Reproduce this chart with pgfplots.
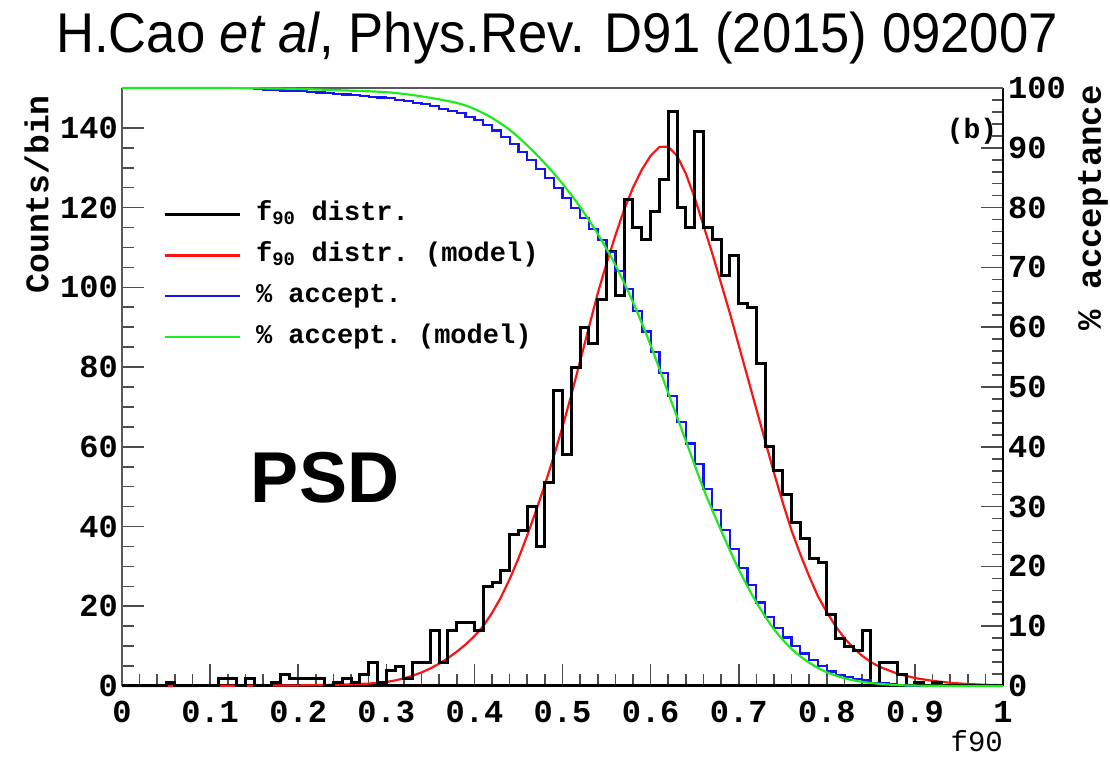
\documentclass[border=0pt]{standalone}
\usepackage{fontspec}
\setmainfont{Liberation Sans}
\setmonofont{Liberation Mono}
\newfontfamily\titlefont[FakeStretch=0.94]{Liberation Sans}
\usepackage{pgfplots}
\pgfplotsset{compat=1.18}
\definecolor{rootred}{RGB}{250,20,20}
\definecolor{rootblue}{RGB}{20,20,245}
\definecolor{rootgreen}{RGB}{30,235,30}

\pgfplotstableread{
x y
0.00 0
0.05 1
0.06 0
0.11 2
0.12 2
0.13 0
0.14 2
0.15 0
0.16 0
0.17 1
0.18 3
0.19 2
0.20 2
0.21 2
0.22 2
0.23 0
0.24 1
0.25 2
0.26 1
0.27 3
0.28 6
0.29 1
0.30 4
0.31 5
0.32 2
0.33 6
0.34 6
0.35 14
0.36 6
0.37 14
0.38 16
0.39 16
0.40 14
0.41 25
0.42 26
0.43 29
0.44 38
0.45 39
0.46 45
0.47 35
0.48 51
0.49 74
0.50 58
0.51 80
0.52 90
0.53 86
0.54 97
0.55 109
0.56 98
0.57 122
0.58 115
0.59 112
0.60 119
0.61 127
0.62 144
0.63 120
0.64 115
0.65 139
0.66 115
0.67 112
0.68 103
0.69 108
0.70 96
0.71 95
0.72 81
0.73 60
0.74 54
0.75 48
0.76 41
0.77 37
0.78 32
0.79 31
0.80 18
0.81 12
0.82 10
0.83 9
0.84 14
0.85 0
0.86 6
0.87 6
0.88 3
0.89 0
0.90 1
0.91 0
0.92 1
0.93 0
1.00 0
}\histdata

\pgfplotstableread{
x y
0.00 0.00
0.05 0.01
0.10 0.03
0.15 0.07
0.20 0.15
0.25 0.35
0.28 0.6
0.30 1.0
0.31 1.4
0.32 1.9
0.33 2.6
0.34 3.4
0.35 4.4
0.36 5.6
0.37 7.0
0.38 8.6
0.39 10.4
0.40 12.5
0.41 15.0
0.42 18.3
0.43 22.2
0.44 26.8
0.45 32.0
0.46 37.8
0.47 44.0
0.48 50.5
0.49 57.5
0.50 65.0
0.51 73.0
0.52 81.5
0.53 90.0
0.54 98.5
0.55 106.0
0.56 113.0
0.57 119.5
0.58 125.0
0.59 129.5
0.60 133.0
0.61 135.2
0.62 135.3
0.63 133.0
0.64 128.5
0.65 122.5
0.66 115.5
0.67 108.5
0.68 101.0
0.69 93.5
0.70 85.5
0.71 77.5
0.72 69.5
0.73 61.5
0.74 53.5
0.75 46.0
0.76 39.0
0.77 33.0
0.78 27.5
0.79 22.5
0.80 18.5
0.81 15.0
0.82 12.0
0.83 9.6
0.84 7.6
0.85 6.0
0.86 4.8
0.88 3.1
0.90 2.0
0.92 1.3
0.94 0.8
0.96 0.5
0.98 0.3
1.00 0.2
}\reddata

\pgfplotstableread{
x y
0.00 100
0.15 99.8
0.16 99.73
0.17 99.66
0.18 99.59
0.19 99.52
0.20 99.45
0.21 99.34
0.22 99.23
0.23 99.12
0.24 99.01
0.25 98.9
0.26 98.78
0.27 98.66
0.28 98.54
0.29 98.42
0.30 98.3
0.31 98.05
0.32 97.79
0.33 97.54
0.34 97.28
0.35 96.93
0.36 96.55
0.37 96.18
0.38 95.8
0.39 95.2
0.40 94.6
0.41 93.75
0.42 92.9
0.43 91.8
0.44 90.7
0.45 89.3
0.46 88.0
0.47 86.5
0.48 85.0
0.49 83.3
0.50 81.6
0.51 79.9
0.52 78.2
0.53 76.4
0.54 74.6
0.55 72.64
0.56 69.36
0.57 66.41
0.58 62.73
0.59 59.27
0.60 55.90
0.61 52.32
0.62 48.49
0.63 44.16
0.64 40.55
0.65 37.09
0.66 32.90
0.67 29.44
0.68 26.07
0.69 22.97
0.70 19.72
0.71 16.83
0.72 13.97
0.73 11.53
0.74 9.72
0.75 8.10
0.76 6.65
0.77 5.42
0.78 4.30
0.79 3.34
0.80 2.41
0.81 1.87
0.82 1.51
0.83 1.20
0.84 0.93
0.85 0.51
0.86 0.51
0.87 0.33
0.88 0.15
0.89 0.06
0.90 0.06
0.91 0.03
0.92 0.03
0.93 0
1.00 0
}\bluedata

\pgfplotstableread{
x y
0.00 100
0.10 100
0.15 99.95
0.20 99.85
0.25 99.6
0.30 99.3
0.34 98.6
0.38 97.5
0.40 96.5
0.42 95.0
0.44 93.0
0.46 90.4
0.48 87.4
0.50 84.0
0.52 80.1
0.54 75.6
0.56 70.4
0.58 64.2
0.60 57.0
0.62 49.0
0.64 41.0
0.66 33.0
0.68 26.0
0.70 19.5
0.72 14.0
0.74 9.5
0.76 6.2
0.78 3.9
0.80 2.3
0.82 1.3
0.84 0.7
0.86 0.35
0.88 0.15
0.90 0.07
0.95 0.01
1.00 0
}\greendata

\begin{document}
\begin{tikzpicture}[x=1pt,y=1pt]
\useasboundingbox (-122,-73) rectangle (988,686);
\begin{axis}[
  at={(0,0)}, anchor=south west,
  width=881pt, height=598pt, scale only axis,
  xmin=0, xmax=1, ymin=0, ymax=150,
  axis x line*=bottom, axis y line*=left,
  x axis line style={line width=3pt, black},
  y axis line style={line width=2pt, black!65},
  xtick={0,0.1,0.2,0.3,0.4,0.5,0.6,0.7,0.8,0.9,1},
  xticklabels={0,0.1,0.2,0.3,0.4,0.5,0.6,0.7,0.8,0.9,1},
  minor x tick num=4,
  ytick={0,20,40,60,80,100,120,140},
  minor y tick num=3,
  tick align=inside,
  major tick length=22pt, minor tick length=12pt,
  tick style={line width=1.6pt, black!70},
  ticklabel style={font=\fontsize{32}{32}\selectfont\ttfamily\bfseries},
  /pgf/number format/assume math mode=true,
  xticklabel style={inner sep=0pt, yshift=-15pt},
  yticklabel style={inner sep=0pt, xshift=-4pt},
  clip=false,
]
\addplot[rootred, line width=2.2pt] table[x=x,y=y] {\reddata};
\addplot[const plot, black, line width=3pt] table[x=x,y=y] {\histdata};
\end{axis}
\begin{axis}[
  at={(0,0)}, anchor=south west,
  width=881pt, height=598pt, scale only axis,
  xmin=0, xmax=1, ymin=0, ymax=100,
  axis x line=none, axis y line*=right,
  y axis line style={line width=2pt, black},
  ytick={0,10,20,30,40,50,60,70,80,90,100},
  minor y tick num=4,
  tick align=inside,
  major tick length=22pt, minor tick length=11pt,
  tick style={line width=1.6pt, black!70},
  ticklabel style={font=\fontsize{32}{32}\selectfont\ttfamily\bfseries},
  /pgf/number format/assume math mode=true,
  yticklabel style={inner sep=0pt, xshift=5pt},
  clip=false,
  legend style={draw=none, fill=none, at={(rel axis cs:0.043,0.815)}, anchor=north west,
    font=\fontsize{27}{27}\selectfont\ttfamily\bfseries,
    row sep=14pt, column sep=15pt,
    nodes={inner sep=0pt, text height=20pt, text depth=7pt}},
  legend cell align=left,
  legend image code/.code={\draw[#1] (0pt,0pt) -- (75pt,0pt);},
]
\draw[black!65, line width=2pt] (rel axis cs:0,1) -- (rel axis cs:1,1);
\addlegendimage{black, line width=3pt}
\addlegendentry{f\textsubscript{90} distr.}
\addlegendimage{rootred, line width=2.5pt}
\addlegendentry{f\textsubscript{90} distr. (model)}
\addplot[const plot, rootblue, line width=2.2pt] table[x=x,y=y] {\bluedata};
\addlegendentry{\% accept.}
\addplot[rootgreen, line width=2.2pt, smooth] table[x=x,y=y] {\greendata};
\addlegendentry{\% accept. (model)}
\end{axis}
\node[font=\fontsize{72}{72}\selectfont\bfseries] at (203,208) {PSD};
\node[font=\fontsize{28}{28}\selectfont\ttfamily\bfseries] at (850,555) {(b)};
\node[font=\titlefont\fontsize{56}{56}\selectfont] at (435,648) {H.Cao \textit{et al}, Phys.Rev. D91 (2015) 092007};
\node[font=\fontsize{33}{33}\selectfont\ttfamily\bfseries, rotate=90, anchor=south east, inner sep=0pt] at (-73,591) {Counts/bin};
\node[font=\fontsize{34}{34}\selectfont\ttfamily\bfseries, rotate=90, anchor=south east, inner sep=0pt] at (986,601) {\% acceptance};
\node[font=\fontsize{29}{29}\selectfont\ttfamily, anchor=east, inner sep=0pt] at (881,-55) {f90};
\end{tikzpicture}
\end{document}
